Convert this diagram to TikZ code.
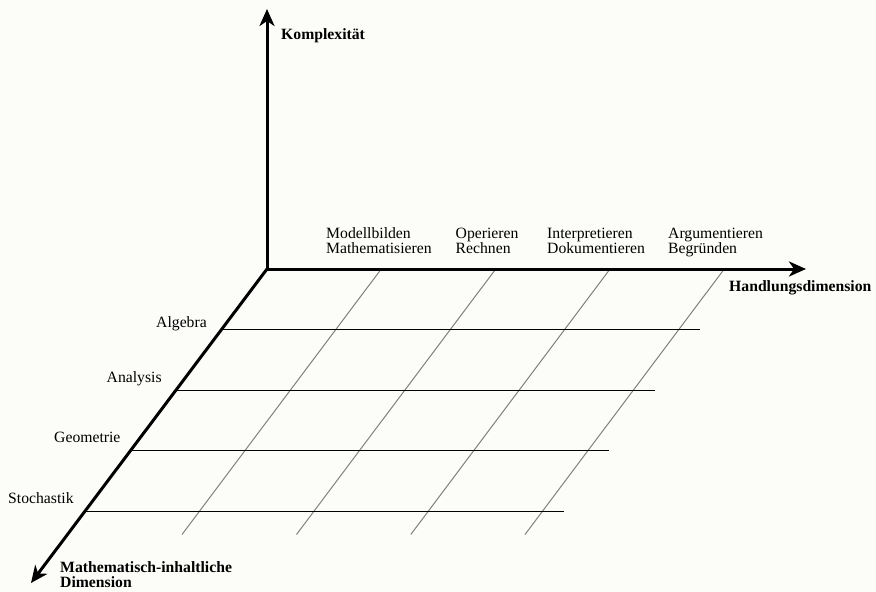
\documentclass[tikz,border=0pt]{standalone}
\usepackage{fontspec}
\setmainfont{Liberation Serif}
\usetikzlibrary{arrows.meta}
\definecolor{bg}{RGB}{252,252,249}
\definecolor{gridgray}{RGB}{128,128,128}
\tikzset{
  axis/.style={line width=3pt,-{Stealth[length=17pt,width=15pt,inset=5pt]}},
  rowline/.style={line width=1pt,black},
  colline/.style={line width=1pt,gridgray},
  lbl/.style={anchor=base west,inner sep=0pt,align=left,font=\fontsize{15.7}{15.5}\selectfont},
  blbl/.style={lbl,font=\fontsize{15.7}{15.5}\selectfont\bfseries}
}
\begin{document}
\begin{tikzpicture}[x=1pt,y=-1pt]
\fill[bg] (0,0) rectangle (876,592);
\useasboundingbox (0,0) rectangle (876,592);
% axes
\coordinate (O) at (267,269);
\coordinate (up) at (267,9);
\coordinate (right) at (806,269);
\coordinate (down) at (31,583);
% rows (start on diagonal axis)
\coordinate (r1a) at (221.8,329.3); \coordinate (r1b) at (700,329.3);
\coordinate (r2a) at (176.3,390);   \coordinate (r2b) at (655,390);
\coordinate (r3a) at (130.9,450.5); \coordinate (r3b) at (609,450.5);
\coordinate (r4a) at (85.5,511);    \coordinate (r4b) at (563.5,511);
% columns
\coordinate (c1a) at (380.5,270);   \coordinate (c1b) at (182,534.5);
\coordinate (c2a) at (495,270);     \coordinate (c2b) at (296.5,534.5);
\coordinate (c3a) at (609.3,270);   \coordinate (c3b) at (410.8,534.5);
\coordinate (c4a) at (723.5,270);   \coordinate (c4b) at (525,534.5);
\draw[colline] (c1a) -- (c1b);
\draw[colline] (c2a) -- (c2b);
\draw[colline] (c3a) -- (c3b);
\draw[colline] (c4a) -- (c4b);
\draw[rowline] (r1a) -- (r1b);
\draw[rowline] (r2a) -- (r2b);
\draw[rowline] (r3a) -- (r3b);
\draw[rowline] (r4a) -- (r4b);
\draw[axis] (O) -- (up);
\draw[axis] (O) -- (right);
\draw[axis] (O) -- (down);
% labels (base anchor = last line's baseline)
\node[blbl] (komp) at (281,39) {Komplexität};
\node[blbl] (hand) at (729,291) {Handlungsdimension};
\node[blbl] (math) at (60,587.5) {Mathematisch-inhaltliche\\Dimension};
\node[lbl] (h1) at (326,253.5) {Modellbilden\\Mathematisieren};
\node[lbl] (h2) at (455.5,253.5) {Operieren\\Rechnen};
\node[lbl] (h3) at (547,253.5) {Interpretieren\\Dokumentieren};
\node[lbl] (h4) at (668,253.5) {Argumentieren\\Begründen};
\node[lbl] (m1) at (156,327.5) {Algebra};
\node[lbl] (m2) at (106.5,382) {Analysis};
\node[lbl] (m3) at (54,442) {Geometrie};
\node[lbl] (m4) at (8,503) {Stochastik};
\end{tikzpicture}
\end{document}
